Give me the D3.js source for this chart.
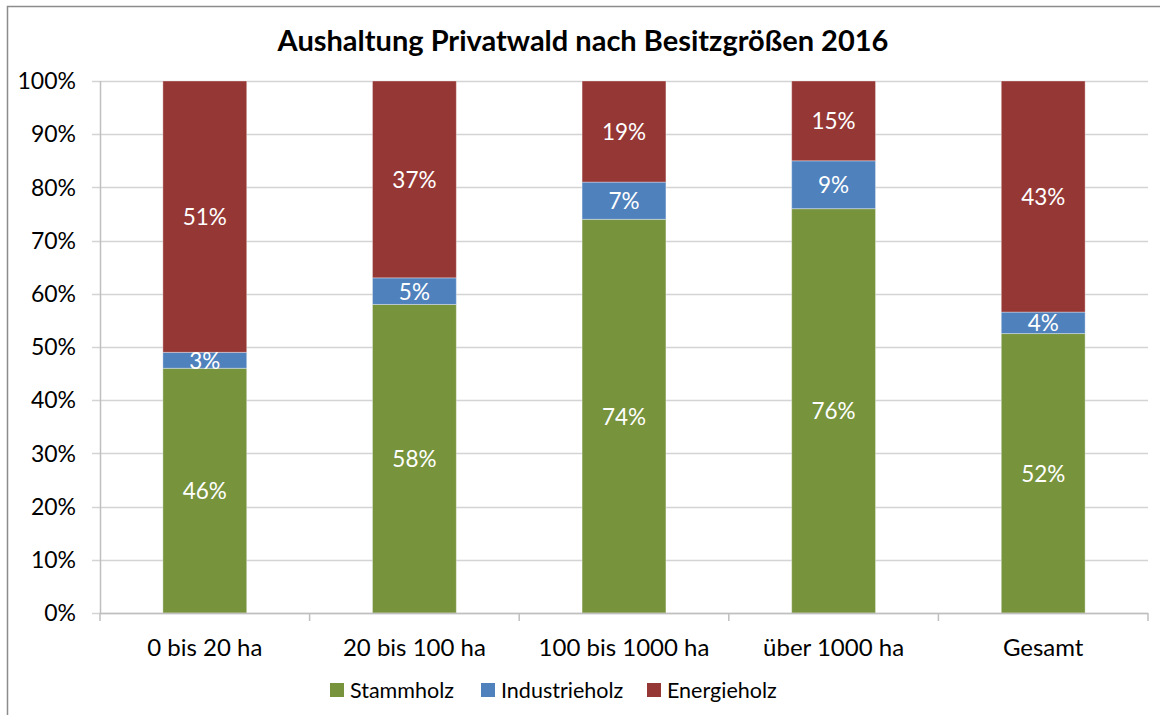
<!DOCTYPE html>
<html>
<head>
<meta charset="utf-8">
<style>
  body { margin: 0; background: #fff; }
  svg text { font-family: Lato, "Open Sans", sans-serif; }
</style>
</head>
<body>
<svg id="chart" width="1160" height="715"></svg>
<script src="https://cdnjs.cloudflare.com/ajax/libs/d3/7.8.5/d3.min.js"></script>
<script>
// chart data
const categories = ["0 bis 20 ha", "20 bis 100 ha", "100 bis 1000 ha", "über 1000 ha", "Gesamt"];
const seriesNames = ["Stammholz", "Industrieholz", "Energieholz"];
const stammholz = [46, 58, 74, 76, 52];
const industrieholz = [3, 5, 7, 9, 4];
const energieholz = [51, 37, 19, 15, 43];
const yTicks = [0, 0.1, 0.2, 0.3, 0.4, 0.5, 0.6, 0.7, 0.8, 0.9, 1];
const colors = ["#77933c", "#4f81bd", "#953735"];

const svg = d3.select("#chart");
const margin = { left: 100, right: 12, top: 81, bottom: 102 };
const W = 1160, H = 715;
const innerW = W - margin.left - margin.right;
const innerH = H - margin.top - margin.bottom;

// outer frame like the Excel chart area
svg.append("rect")
  .attr("x", 7.5).attr("y", 6.5)
  .attr("width", W + 20).attr("height", H + 20)
  .attr("fill", "none").attr("stroke", "#8c8c8c").attr("stroke-width", 1.5);

svg.append("text")
  .attr("x", 583).attr("y", 51)
  .attr("text-anchor", "middle")
  .style("font-size", "29px").style("font-weight", "bold")
  .attr("fill", "#000")
  .text("Aushaltung Privatwald nach Besitzgrößen 2016");

const table = categories.map((c, i) => ({
  cat: c,
  Stammholz: stammholz[i],
  Industrieholz: industrieholz[i],
  Energieholz: energieholz[i]
}));

const stack = d3.stack().keys(seriesNames).offset(d3.stackOffsetExpand);
const layers = stack(table);

const x = d3.scaleBand().domain(categories).range([0, innerW]).paddingInner(0.6).paddingOuter(0.3);
const y = d3.scaleLinear().domain([0, 1]).range([innerH, 0]);

const g = svg.append("g").attr("transform", `translate(${margin.left},${margin.top})`);

// gridlines
g.append("g").selectAll("line").data(yTicks).join("line")
  .attr("x1", -8).attr("x2", innerW)
  .attr("y1", d => Math.round(y(d)) + 0.5).attr("y2", d => Math.round(y(d)) + 0.5)
  .attr("stroke", "#d4d4d4").attr("stroke-width", 1.5);

// y axis labels
g.append("g").selectAll("text").data(yTicks).join("text")
  .attr("x", -24).attr("y", d => y(d)).attr("dy", "0.36em")
  .attr("text-anchor", "end")
  .style("font-size", "23px").attr("fill", "#000")
  .text(d3.format(".0%"));

// bars
const layerG = g.selectAll(".layer").data(layers).join("g")
  .attr("class", "layer")
  .attr("fill", (d, i) => colors[i]);

layerG.selectAll("rect").data(d => d).join("rect")
  .attr("x", d => x(d.data.cat))
  .attr("y", d => y(d[1]))
  .attr("width", x.bandwidth())
  .attr("height", d => y(d[0]) - y(d[1]))
  .attr("stroke", "rgba(255,255,255,0.35)").attr("stroke-width", 1);

// data labels
layers.forEach((layer, li) => {
  g.append("g").selectAll("text").data(layer).join("text")
    .attr("x", d => x(d.data.cat) + x.bandwidth() / 2)
    .attr("y", d => (y(d[0]) + y(d[1])) / 2)
    .attr("dy", "0.38em")
    .attr("text-anchor", "middle")
    .style("font-size", "22.5px").attr("fill", "#fff")
    .text(d => d.data[layer.key] + "%");
});

// axes lines
g.append("line").attr("x1", 0.5).attr("x2", 0.5).attr("y1", 0).attr("y2", innerH)
  .attr("stroke", "#bfbfbf").attr("stroke-width", 1.5);
g.append("line").attr("x1", 0).attr("x2", innerW).attr("y1", innerH + 0.5).attr("y2", innerH + 0.5)
  .attr("stroke", "#bfbfbf").attr("stroke-width", 1.5);

// category boundary ticks
const step = innerW / categories.length;
g.append("g").selectAll("line").data(d3.range(categories.length + 1)).join("line")
  .attr("x1", i => i * step).attr("x2", i => i * step)
  .attr("y1", innerH).attr("y2", innerH + 8)
  .attr("stroke", "#bfbfbf").attr("stroke-width", 1.5);

// category labels
g.append("g").selectAll("text").data(categories).join("text")
  .attr("x", d => x(d) + x.bandwidth() / 2)
  .attr("y", innerH + 43)
  .attr("text-anchor", "middle")
  .style("font-size", "24px").attr("fill", "#000")
  .text(d => d);

// legend
const legendX = [330, 481, 647];
const legend = svg.append("g").selectAll("g").data(seriesNames).join("g")
  .attr("transform", (d, i) => `translate(${legendX[i]},683)`);
legend.append("rect").attr("width", 14).attr("height", 14)
  .attr("fill", (d, i) => colors[i]);
legend.append("text").attr("x", 20).attr("y", 7).attr("dy", "0.36em")
  .style("font-size", "21.5px").attr("fill", "#000")
  .text(d => d);
</script>
</body>
</html>
